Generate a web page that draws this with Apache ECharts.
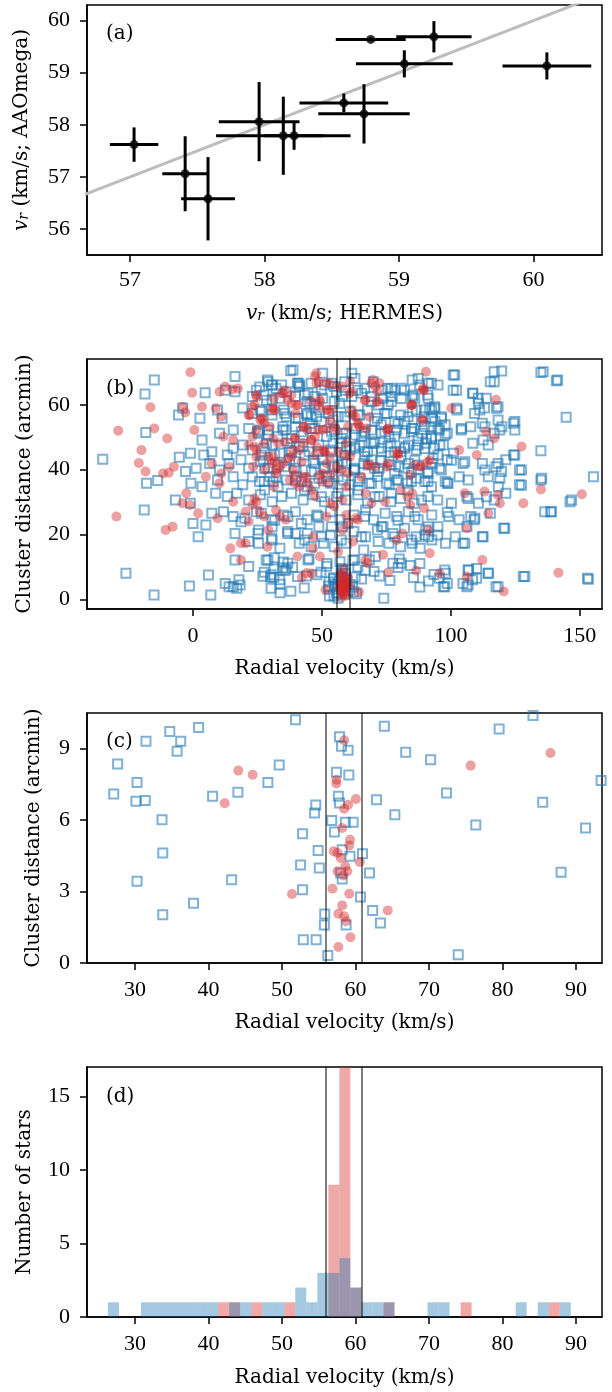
<!DOCTYPE html>
<html>
<head>
<meta charset="utf-8">
<script src="https://cdn.jsdelivr.net/npm/echarts@6/dist/echarts.min.js"></script>
<style>
html, body { margin: 0; padding: 0; background: #fff; }
#chart { width: 612px; height: 1392px; }
</style>
</head>
<body>
<div id="chart"></div>
<script>
"use strict";

/*****Data start*****/
// (a) HERMES vs AAOmega radial velocities (km/s)
var hermesV   = [57.03, 57.41, 57.58, 57.96, 58.14, 58.22, 58.59, 58.74, 58.79, 59.26, 59.04, 60.10];
var hermesErr = [0.18, 0.17, 0.20, 0.30, 0.50, 0.22, 0.33, 0.34, 0.26, 0.28, 0.36, 0.33];
var aaoV      = [57.62, 57.06, 56.58, 58.06, 57.79, 57.79, 58.42, 58.21, 59.64, 59.69, 59.17, 59.13];
var aaoErr    = [0.33, 0.72, 0.80, 0.76, 0.75, 0.27, 0.18, 0.57, 0.04, 0.30, 0.26, 0.26];
var oneToOne  = [56, 61];

// velocity window of the cluster
var memberCut = [55.9, 60.9];

// (b)/(c) [radial velocity, cluster distance] -- stars inside the (c) window
var fieldInner = [
	[27.09,7.10],[27.62,8.36],[30.26,7.58],[30.11,6.79],[31.38,6.83],[31.48,9.31],[30.26,3.43],
	[33.66,6.02],[33.76,4.62],[33.76,2.03],[34.72,9.72],[36.20,9.31],[35.72,8.89],[38.64,9.89],
	[37.95,2.51],[40.55,7.00],[43.99,7.17],[43.14,3.50],[48.07,7.58],[49.61,8.32],[51.83,10.22],
	[52.79,5.43],[52.52,4.12],[52.79,3.08],[52.89,0.98],[54.64,0.98],[54.59,6.64],[54.43,6.30],
	[54.91,4.73],[55.07,3.99],[55.81,2.06],[55.76,1.60],[56.23,0.31],[56.76,5.99],[57.13,5.50],
	[57.40,8.01],[57.82,9.50],[58.09,9.10],[58.99,8.94],[59.09,7.90],[57.66,7.00],[57.82,6.72],
	[58.62,5.91],[59.68,5.91],[58.19,4.76],[59.25,4.48],[60.95,4.59],[57.98,3.78],[58.19,3.53],
	[58.72,1.60],[60.68,2.77],[61.90,3.78],[62.33,2.21],[63.39,1.68],[62.86,6.86],[63.92,9.94],
	[65.35,6.23],[66.83,8.85],[70.22,8.54],[72.39,7.14],[73.98,0.35],[76.37,5.80],[79.55,9.83],
	[84.16,10.39],[85.48,6.75],[87.98,3.81],[91.31,5.67],[93.43,7.66]
];
var memberInner = [
	[58.46,9.36],[44.04,8.08],[46.00,7.91],[42.19,6.71],[75.68,8.29],[86.54,8.82],[57.40,7.70],
	[57.40,7.54],[60.05,6.89],[58.99,6.65],[58.46,6.48],[58.19,5.67],[59.25,5.18],[59.15,4.94],
	[57.03,4.69],[57.56,4.62],[57.98,4.41],[60.58,4.24],[58.62,4.06],[57.56,3.85],[58.88,3.85],
	[58.35,3.68],[56.87,3.12],[51.36,2.90],[59.15,2.91],[58.19,2.42],[57.66,2.07],[58.46,1.96],
	[58.72,1.75],[64.39,2.21],[59.31,1.08],[57.66,0.67]
];

// (b) the rest of the field
var fieldOuter = [
	[-35.0,43.2],[-26.0,8.0],[-15.1,1.3],[-15.0,67.6],[-18.6,63.3],[-18.3,51.4],[-18.0,35.8],[-18.9,27.5],
	[-13.7,36.6],[-1.4,4.1],[-6.8,30.6],[-5.3,43.8],[-5.6,56.8],[-2.9,39.4],[-0.8,35.8],[0.0,23.4],
	[2.0,19.3],[2.7,55.8],[4.2,44.5],[6.9,1.3],[6.0,7.5],[4.7,63.7],[7.3,26.5],[8.8,32.7],[13.3,44.5],
	[11.3,55.8],[15.6,3.9],[16.3,68.7],[16.3,20.3],[15.6,37.8],[17.8,6.0],[21.6,10.1],[23.1,57.3],
	[25.4,21.4],[28.9,67.6],[28.4,12.1],[37.9,70.5],[40.5,66.6],[35.5,40.9],[39.7,36.8],[42.7,30.6],
	[39.7,20.3],[44.3,20.3],[45.8,66.6],[45.8,56.3],[50.3,69.7],[50.6,17.3],[54.8,65.6],[57.9,62.5],
	[61.6,69.7],[63.9,64.5],[66.2,15.2],[69.2,62.5],[73.7,22.4],[76.7,62.5],[82.0,64.5],[87.3,68.1],
	[91.1,66.6],[98.6,26.8],[100.9,69.2],[100.9,64.5],[102.4,58.4],[101.7,19.3],[104.7,41.9],[106.2,3.9],
	[106.9,9.0],[108.4,63.5],[110.7,60.4],[110.0,9.5],[112.2,19.3],[112.2,41.9],[114.5,8.0],[114.5,37.8],
	[115.3,67.1],[116.8,70.2],[117.5,3.9],[118.3,59.4],[118.3,55.3],[119.0,37.3],[119.8,53.2],[120.5,21.9],
	[121.3,32.7],[124.3,54.3],[124.3,44.5],[126.6,39.9],[126.6,35.3],[128.1,7.0],[134.9,69.9],[134.9,45.8],
	[134.9,36.8],[136.4,27.0],[138.7,27.0],[140.9,67.4],[144.7,56.1],[146.2,30.1],[153.0,6.5],[155.3,37.8],
	[30.7,66.1],[32.2,65.0],[24.6,64.5],[41.2,65.6],[51.0,66.1],[69.9,67.1],[85.0,67.6],[95.0,66.1],
	[75.5,65.0],[34.4,66.1],
	[12.5,64.5],[16.3,64.0],[23.0,62.5],[27.5,63.0],[30.7,61.5],[33.7,62.0],[39.7,62.5],[44.3,61.0],
	[47.3,62.5],[50.3,62.0],[54.8,61.0],[61.6,62.5],[65.4,63.5],[73.7,62.0],[85.0,62.5],[91.0,63.0],
	[113.7,62.0],
	[-4.0,59.0],[9.5,58.4],[19.3,59.0],[26.0,58.4],[30.7,56.8],[35.2,58.4],[39.7,55.8],[44.3,56.8],
	[48.8,58.4],[52.6,57.3],[56.3,56.3],[60.9,57.8],[64.7,56.8],[67.7,58.4],[71.5,55.8],[75.2,57.3],
	[80.5,56.8],[85.0,57.8],[89.6,56.3],[92.6,58.4],[96.4,55.8],[109.2,57.3],[113.0,59.0],
	[3.5,49.1],[10.3,51.2],[15.6,52.2],[21.6,52.7],[25.4,51.2],[29.2,52.2],[32.9,50.2],[36.0,52.2],
	[39.7,53.2],[42.7,50.7],[47.3,52.7],[51.8,50.2],[54.8,52.2],[59.4,51.2],[63.1,52.7],[65.4,50.2],
	[69.2,52.2],[73.0,53.8],[76.0,50.2],[79.0,52.2],[82.0,51.2],[85.8,52.7],[88.8,51.2],[92.6,53.2],
	[95.6,52.2],[98.6,51.2],[104.0,52.2],[107.7,53.2],[112.2,54.3],[116.8,51.2],
	[-1.0,45.0],[7.3,45.5],[15.6,46.6],[19.3,47.6],[23.0,46.0],[27.6,46.6],[30.7,47.6],[33.7,45.0],
	[36.7,48.1],[41.2,47.1],[45.0,45.5],[48.8,47.6],[53.3,46.0],[57.0,48.1],[60.9,46.0],[64.7,47.6],
	[67.7,45.5],[70.0,48.1],[73.0,46.6],[76.7,48.1],[80.5,45.5],[83.5,47.6],[86.6,46.0],[90.3,48.1],
	[93.4,46.6],[97.1,47.6],[101.0,45.0],[108.5,48.1],[114.5,47.6],
	[1.2,40.4],[6.5,41.9],[10.3,39.9],[14.0,41.9],[18.6,43.0],[21.6,40.4],[26.1,42.4],[29.2,40.4],
	[39.7,42.4],[43.5,39.9],[47.3,41.9],[50.3,43.0],[54.8,40.9],[57.9,42.4],[62.4,39.9],[66.2,41.9],
	[69.2,43.0],[72.2,40.4],[76.0,42.4],[79.8,40.9],[83.5,41.9],[87.3,39.9],[92.6,41.9],[95.6,40.4],
	[98.6,43.0],[117.5,40.9],[121.3,43.0],
	[3.5,34.7],[9.5,36.8],[19.3,35.3],[23.0,37.8],[27.6,36.3],[32.2,37.8],[44.3,34.7],[48.8,37.3],
	[53.3,35.8],[56.3,37.8],[60.9,35.3],[64.7,37.3],[68.4,35.8],[71.5,37.8],[76.0,35.3],[79.0,36.8],
	[83.1,35.8],[86.6,37.3],[91.1,36.3],[98.6,35.8],[103.2,37.8],
	[-1.0,29.6],[13.3,31.7],[17.0,32.7],[21.6,30.6],[26.1,32.2],[30.7,30.1],[34.4,31.7],[46.5,32.2],
	[51.0,30.1],[55.6,31.7],[59.4,30.6],[63.9,32.2],[67.7,29.6],[72.2,31.7],[76.7,30.1],[80.5,31.1],
	[85.8,29.6],[91.1,31.7],[94.9,30.6],[100.2,29.6],[106.2,31.7],[110.7,29.6],[116.8,30.6],
	[11.8,27.0],[15.6,25.5],[20.1,25.0],[24.6,27.0],[30.7,24.5],[35.2,26.0],[39.7,27.0],[44.3,24.5],
	[48.0,26.0],[53.3,27.0],[57.0,24.5],[62.4,26.0],[66.9,27.5],[70.0,24.5],[74.5,26.5],[79.0,25.5],
	[83.5,27.0],[87.3,24.5],[92.6,26.0],[103.2,24.5],[107.7,25.5],[115.3,26.5],[109.0,24.5],
	[5.0,22.9],[18.6,23.9],[30.7,22.4],[36.7,20.9],[48.8,22.4],[53.3,19.8],[57.9,22.4],[62.4,20.9],
	[66.9,19.3],[71.5,21.4],[77.5,20.3],[82.0,21.9],[86.6,19.3],[90.3,21.4],[94.9,19.8],[106.2,22.4],
	[21.6,17.8],[25.4,17.3],[30.7,18.3],[33.7,15.7],[41.2,17.3],[45.8,16.2],[54.8,16.2],[59.4,17.3],
	[70.7,13.2],[76.0,17.3],[80.5,16.2],[85.0,17.3],[88.1,15.7],[92.6,18.3],[97.9,17.3],[104.7,17.3],
	[16.3,12.1],[68.4,12.1],[77.5,11.1],
	[35.0,11.5],[45.0,12.5],[52.0,11.0],[62.0,12.0],[80.0,12.4],[88.0,11.0],[31.5,12.8],[57.0,11.6],
	[12.5,4.9],[14.0,3.9],[17.0,3.4],[18.3,4.4],[95.6,6.5],[97.1,3.9],[98.6,4.9],[97.9,8.0],
	[104.7,4.9],[108.4,6.0],[110.0,6.5]
];
// (b) the crowded core, read from close-ups
var fieldCore = [
	[38.8,70.7],[29.1,67.1],[36.2,64.0],[40.8,66.6],[43.3,63.0],[47.2,59.9],[49.8,64.5],[53.7,66.6],
	[58.8,67.1],[62.8,68.1],[66.6,65.1],[77.0,65.1],[80.8,65.1],[86.0,62.0],[91.2,62.0],[91.8,58.9],
	[75.7,59.9],[71.8,59.9],[69.2,60.9],[64.0,56.8],[49.8,54.8],[40.8,55.8],[35.6,57.3],[30.4,58.4],
	[26.5,57.9],[25.2,51.7],[29.1,50.7],[34.9,53.2],[38.2,49.6],[42.0,51.7],[45.9,52.7],[53.7,51.7],
	[57.5,49.6],[62.7,50.7],[66.6,51.7],[70.5,48.6],[74.4,51.7],[78.2,54.8],[82.1,54.8],[84.7,51.7],
	[88.6,54.8],[90.5,49.6],[87.3,47.6],[82.1,46.6],[78.2,45.5],[73.1,45.5],[66.6,45.5],[62.7,46.6],
	[58.8,44.5],[53.7,45.5],[48.5,45.5],[43.3,44.5],[38.2,45.5],[31.7,44.5],[26.5,44.5],[27.8,40.4],
	[33.0,41.4],[39.4,40.4],[45.9,39.4],[51.1,40.4],[56.3,41.4],[62.7,40.4],[67.9,41.4],[71.8,39.4],
	[76.9,41.4],[82.1,40.4],[87.3,41.4],[91.2,39.4],[89.9,36.3],[84.7,36.3],[79.5,36.8],[75.0,35.8],
	[69.2,35.8],[64.0,36.3],[58.2,36.8],[52.4,36.3],[47.2,35.8],[42.0,36.3],[36.2,36.8],[31.1,36.3],
	[25.8,36.3],
	[27.8,33.7],[33.0,34.7],[38.2,32.7],[43.3,33.7],[49.8,31.6],[56.3,32.7],[64.0,33.7],[70.5,31.6],
	[76.9,32.7],[83.4,33.7],[88.6,30.6],[26.5,26.5],[31.7,24.4],[36.8,25.5],[42.0,23.4],[48.5,25.5],
	[53.7,22.4],[60.1,23.4],[66.6,25.5],[73.1,22.4],[79.5,24.4],[86.0,25.5],[91.2,22.4],[25.2,20.3],
	[30.4,18.8],[36.8,20.3],[43.3,18.3],[49.8,19.3],[57.5,18.3],[65.3,19.3],[71.8,17.8],[78.2,19.3],
	[84.7,18.3],[89.9,19.8],[29.1,12.1],[36.8,11.1],[44.6,12.1],[62.7,12.1],[80.8,11.1],
	[101.5,69.2],[102.2,64.5],[108.6,63.5],[110.6,62.0],[116.8,67.1],[119.7,70.4],[135.8,70.2],[141.4,67.6],
	[124.8,54.8],[124.8,52.2],[119.0,52.2],[113.2,53.2],[104.1,52.7],[93.8,58.9],[93.8,54.8],[97.8,53.8],
	[97.8,50.7],[92.5,49.6],[102.2,58.9],[111.2,58.4],[117.7,58.9],[112.5,49.1],[118.3,41.9],[124.8,44.5],
	[105.4,42.4],[100.2,42.9],[95.0,44.5],[119.6,39.4],[127.4,39.9],[135.2,37.3],[113.2,39.9],[106.7,36.8],
	[97.8,36.3],[92.5,34.7],[98.9,35.8],[106.7,31.1],[113.8,31.6],[118.4,34.7],[127.4,35.2],[146.8,30.6],
	[139.0,27.0],[120.9,21.9],[112.5,19.3],[105.4,17.3],[109.3,25.0],[99.2,25.5],[95.0,22.4],[91.2,19.3],
	[97.6,9.0],[106.7,9.0],[114.5,8.0],[118.3,3.9],[128.7,7.0],[106.7,4.4],[97.6,3.9],[153.3,6.2],
	[25.9,65.5],[30.4,66.1],[41.4,66.1],[44.6,63.5],[55.6,64.0],[58.9,64.5],[28.5,61.4],[45.3,60.4],
	[56.9,60.4],[36.2,56.3],[44.0,57.3],[47.9,56.3],[54.3,55.3],[58.9,56.3],[25.9,52.2],[34.9,52.2],
	[45.3,54.2],[58.2,51.2],[28.5,48.1],[37.5,46.0],[42.7,47.0],[54.3,48.1],[59.5,47.0],[27.2,42.9],
	[37.5,42.9],[46.6,42.9],[50.5,40.9],[59.5,41.9],[29.8,37.8],[40.1,37.8],[51.8,37.8],
	[78.2,64.5],[87.9,66.1],[92.4,66.6],[85.3,63.0],[73.0,64.5],[76.9,60.9],[80.8,61.9],[93.7,59.4],
	[89.8,58.4],[74.3,57.3],[83.4,56.3],[86.6,58.4],[92.4,55.8],[96.3,56.3],[70.4,54.8],[79.5,54.2],
	[84.7,52.7],[89.8,53.2],[95.0,52.7],[66.6,51.2],[73.0,51.2],[78.2,50.1],[87.3,49.6],[92.4,50.1],
	[62.7,47.0],[69.1,48.1],[75.6,47.0],[82.1,47.0],[89.8,46.5],[95.7,47.6],[66.6,44.0],[73.0,42.9],
	[80.8,44.0],[86.0,42.9],[93.1,43.4],[62.7,39.9],[70.4,40.4],[78.2,38.8],[84.7,39.3],[91.1,38.8],
	[96.3,39.9]
];
var memberOuter = [
	[-1.0,70.0],[-29.0,52.0],[-29.7,25.5],[-20.0,46.0],[-21.0,42.0],[-18.4,39.4],[-16.5,59.2],[-15.0,52.7],
	[-10.0,49.6],[-10.6,21.4],[-7.9,22.4],[-11.6,38.8],[-9.4,39.0],[-7.4,40.9],[-4.0,59.4],[-3.0,57.6],
	[-0.3,63.7],[0.5,52.2],[-2.6,32.7],[-4.1,29.6],[-1.1,29.1],[2.0,26.5],[5.0,37.8],[7.3,41.9],
	[3.5,59.4],[8.8,58.9],[10.3,64.0],[12.5,65.6],[15.3,64.7],[17.4,65.0],[11.0,56.3],[11.8,50.2],
	[15.6,49.1],[11.0,38.8],[10.3,35.8],[14.0,40.9],[15.6,30.1],[9.5,25.0],[14.5,15.7],[18.6,17.3],
	[20.4,17.3],[18.6,12.1],[20.4,27.0],[21.6,24.0],[23.1,29.1],[24.6,30.1],[23.9,31.1],[25.8,27.0],
	[27.6,25.5],[29.2,21.4],[28.9,16.2],[24.6,62.5],[23.1,59.4],[21.6,56.8],[26.1,55.3],[27.6,54.3],
	[24.6,52.2],[23.1,50.2],[21.6,47.6],[24.6,46.0],[27.6,48.1],[29.2,44.0],[30.7,41.9],[32.2,39.9],
	[33.7,40.9],[31.4,34.7],[32.2,27.5],[33.7,25.5],[36.0,24.5],[37.5,36.8],[39.7,35.8],[41.2,34.7],
	[42.7,37.8],[44.3,35.8],[45.8,33.7],[47.3,31.7],[38.2,44.0],[41.2,46.0],[42.7,48.1],[45.8,49.1],
	[44.3,52.2],[47.3,50.2],[50.3,52.2],[39.7,57.3],[38.2,60.4],[36.7,61.5],[34.4,63.5],[31.4,62.0],
	[30.7,58.4],[47.3,68.7],[48.8,67.1],[45.8,61.0],[48.8,59.4],[51.8,58.4],[53.3,55.3],[51.0,45.5],
	[51.8,41.9],[50.3,38.8],[52.6,35.8],[53.3,29.6],[54.8,28.6],[51.8,25.5],[46.7,19.3],[46.5,15.7],
	[49.2,13.2],[40.5,13.2],[56.3,14.7],[58.0,21.4],[59.4,26.0],[60.1,23.4],[58.0,30.6],[59.4,34.7],
	[60.1,38.8],[60.9,44.0],[59.4,48.1],[60.1,53.2],[61.6,64.0],[60.9,67.1],[57.9,65.6],[63.1,56.3],
	[64.7,53.2],[61.6,58.4],[63.1,25.0],[63.9,24.5],[62.1,17.8],[66.9,12.1],[67.7,11.1],[69.2,66.6],
	[70.7,65.6],[71.5,64.0],[66.9,61.5],[68.4,56.3],[66.9,32.7],[69.2,29.6],[70.7,40.9],[75.2,52.2],
	[75.2,40.9],[74.5,30.1],[73.7,13.7],[79.0,45.0],[79.0,18.3],[81.3,20.3],[80.6,33.7],[83.1,31.7],
	[84.3,38.3],[85.0,32.7],[84.3,29.1],[85.0,59.9],[88.8,55.3],[89.6,64.5],[90.3,70.2],[88.1,40.9],
	[91.1,42.4],[89.6,28.1],[91.1,21.4],[91.8,14.2],[95.6,8.0],[100.2,58.9],[103.2,46.0],[105.4,32.7],
	[106.2,21.9],[106.2,7.0],[110.0,44.5],[112.2,12.1],[113.0,33.2],[113.7,51.7],[114.5,26.5],[116.8,49.6],
	[117.5,61.5],[118.3,32.2],[119.0,29.6],[120.5,2.4],[127.4,47.1],[128.1,29.6],[134.9,33.9],[141.7,8.2],
	[150.8,32.4],
	[47.8,69.7],[51.7,66.6],[55.6,65.6],[69.8,67.6],[72.4,66.6],[89.2,65.1],[84.7,59.9],[71.8,60.9],
	[35.6,64.5],[40.1,59.9],[26.5,55.8],[49.1,61.5],[53.7,58.4],[64.0,53.8],[67.3,52.7],[75.6,52.7],
	[54.9,53.2],[43.3,53.2],[39.4,49.6],[33.0,48.1],[51.1,45.5],[47.2,44.5],[36.9,43.5],[31.7,42.4],
	[58.8,44.5],[67.9,41.4],[79.5,44.5],[86.0,41.4],[57.5,39.9],[39.4,38.3],[49.8,36.3],[65.3,37.8],
	[47.9,66.6],[53.0,66.6],[24.6,63.0],[34.9,63.5],[38.2,63.0],[40.8,59.9],[49.2,60.9],[52.4,58.4],
	[31.1,58.9],[23.9,59.9],[22.0,56.8],[27.2,55.3],[31.7,58.4],[42.7,53.2],[45.9,49.1],[48.5,52.2],
	[51.8,52.7],[55.6,52.2],[23.9,47.0],[29.8,53.2],[31.1,49.6],[35.6,48.6],[39.5,49.6],[38.8,46.0],
	[42.1,42.4],[47.9,47.0],[50.5,46.0],[53.0,44.0],[56.3,45.5],[55.6,40.9],[24.6,44.0],[31.1,44.0],
	[34.9,41.9],[32.3,38.8],[38.8,39.9],[44.0,37.8],[49.2,38.3],[53.7,38.8],[23.3,40.9],[27.8,39.9],
	[60.7,63.5],[66.6,61.4],[71.1,60.9],[84.7,59.9],[89.2,64.5],[62.0,56.8],[64.0,54.2],[75.6,52.4],
	[89.2,55.3],[79.5,45.0],[75.6,41.9],[67.9,41.4],[91.8,42.9],[88.6,41.1]
];

// (d) histogram of radial velocities
var binEdges = [26.3, 27.8, 29.3, 30.8, 32.3, 33.8, 35.3, 36.8, 38.3, 39.8, 41.3, 42.8, 44.3, 45.8,
	47.3, 48.8, 50.3, 51.8, 53.3, 54.8, 56.3, 57.8, 59.3, 60.8, 62.3, 63.8, 65.3, 66.8, 68.3, 69.8,
	71.3, 72.8, 74.3, 75.8, 77.3, 78.8, 80.3, 81.8, 83.3, 84.8, 86.3, 87.8, 89.3];
var fieldCounts  = [1, 0, 0, 1, 1, 1, 1, 1, 1, 1, 0, 1, 1, 0, 1, 1, 0, 2, 1, 3, 3, 4, 2, 1, 1, 1,
	0, 0, 0, 1, 1, 0, 0, 0, 0, 0, 0, 1, 0, 1, 0, 1];
var memberCounts = [0, 0, 0, 0, 0, 0, 0, 0, 0, 0, 1, 1, 0, 1, 0, 0, 1, 0, 0, 0, 9, 17, 2, 0, 0, 1,
	0, 0, 0, 0, 0, 0, 1, 0, 0, 0, 0, 0, 0, 0, 1, 0];

// tick labels
var ticksAX = [57, 58, 59, 60], ticksAY = [56, 57, 58, 59, 60];
var ticksBX = [0, 50, 100, 150], ticksBY = [0, 20, 40, 60];
var ticksCX = [30, 40, 50, 60, 70, 80, 90], ticksCY = [0, 3, 6, 9];
var ticksDY = [0, 5, 10, 15];
/*****Data end*****/

var TICK_FONT = 'Liberation Serif';
var TEXT_FONT = 'DejaVu Serif';
var BLUE_EDGE = 'rgba(31,119,180,0.72)';
var RED_FILL = 'rgba(214,39,40,0.55)';

var vrRich = {
	i: { fontFamily: TEXT_FONT, fontSize: 20, fontStyle: 'italic', color: '#000', padding: [0, 0, 5, 0] },
	s: { fontFamily: TEXT_FONT, fontSize: 14, fontStyle: 'italic', color: '#000' },
	n: { fontFamily: TEXT_FONT, fontSize: 20, color: '#000', padding: [0, 0, 5, 0] }
};

function makeAxis(gi, min, max, ticks, name, gap, margin, rich) {
	var ns = { fontFamily: TEXT_FONT, fontSize: 20, color: '#000' };
	if (rich) { ns.rich = rich; }
	return {
		type: 'value', gridIndex: gi, min: min, max: max, scale: true,
		name: name, nameLocation: 'middle', nameGap: gap, nameTextStyle: ns,
		axisLine: { show: true, onZero: false, lineStyle: { color: '#000', width: 1.5 } },
		axisTick: { show: true, length: 7, lineStyle: { color: '#000', width: 1.5 }, customValues: ticks },
		axisLabel: { fontFamily: TICK_FONT, fontSize: 22, color: '#000', margin: margin, customValues: ticks },
		splitLine: { show: false }
	};
}

function makeGrid(top) {
	return { left: 87, width: 515, top: top, height: 250, show: true,
		borderColor: '#000', borderWidth: 1.5, backgroundColor: 'transparent' };
}

function cutLines() {
	return {
		silent: true, symbol: 'none', label: { show: false },
		lineStyle: { color: 'rgba(0,0,0,0.5)', width: 2, type: 'solid' },
		data: memberCut.map(function (v) { return { xAxis: v }; })
	};
}

function errorBarItem(params, api) {
	var x = api.value(0), y = api.value(1), ex = api.value(2), ey = api.value(3);
	var l = api.coord([x - ex, y]), r = api.coord([x + ex, y]);
	var t = api.coord([x, y + ey]), b = api.coord([x, y - ey]);
	var st = { stroke: '#000', lineWidth: 3 };
	return { type: 'group', children: [
		{ type: 'line', shape: { x1: l[0], y1: l[1], x2: r[0], y2: r[1] }, style: st },
		{ type: 'line', shape: { x1: b[0], y1: b[1], x2: t[0], y2: t[1] }, style: st }
	] };
}

function histItem(fill) {
	return function (params, api) {
		var p0 = api.coord([api.value(0), api.value(2)]);
		var p1 = api.coord([api.value(1), 0]);
		return { type: 'rect', shape: { x: p0[0], y: p0[1], width: p1[0] - p0[0], height: p1[1] - p0[1] },
			style: { fill: fill } };
	};
}

function histData(counts) {
	var out = [];
	for (var i = 0; i < counts.length; i++) {
		if (counts[i] > 0) { out.push([binEdges[i], binEdges[i + 1], counts[i]]); }
	}
	return out;
}

function scatterField(ai, data) {
	return { type: 'scatter', xAxisIndex: ai, yAxisIndex: ai, data: data, symbol: 'rect', symbolSize: 9,
		clip: true, silent: true, large: false,
		itemStyle: { color: 'rgba(0,0,0,0)', borderColor: BLUE_EDGE, borderWidth: 2 } };
}
function scatterMember(ai, data) {
	return { type: 'scatter', xAxisIndex: ai, yAxisIndex: ai, data: data, symbol: 'circle', symbolSize: 10,
		clip: true, silent: true, large: false, itemStyle: { color: RED_FILL } };
}

function panelLabel(txt, top) {
	return { type: 'text', left: 106, top: top,
		style: { text: txt, font: '20px "' + TEXT_FONT + '"', fill: '#000' } };
}

var chart = echarts.init(document.getElementById('chart'), null, { renderer: 'canvas' });

var option = {
	animation: false,
	backgroundColor: '#fff',
	grid: [makeGrid(5), makeGrid(359), makeGrid(713), makeGrid(1067)],
	xAxis: [
		makeAxis(0, 56.68, 60.51, ticksAX, '{i|v}{s|r}{n| (km/s; HERMES)}', 49, 14, vrRich),
		makeAxis(1, -41.1, 158.6, ticksBX, 'Radial velocity (km/s)', 50, 16),
		makeAxis(2, 23.45, 93.55, ticksCX, 'Radial velocity (km/s)', 50, 16),
		makeAxis(3, 23.45, 93.55, ticksCX, 'Radial velocity (km/s)', 51, 16)
	],
	yAxis: [
		makeAxis(0, 55.5, 60.3, ticksAY, '{i|v}{s|r}{n| (km/s; AAOmega)}', 50, 17, vrRich),
		makeAxis(1, -3, 74.1, ticksBY, 'Cluster distance (arcmin)', 52, 17),
		makeAxis(2, 0, 10.5, ticksCY, 'Cluster distance (arcmin)', 43, 17),
		makeAxis(3, 0, 17, ticksDY, 'Number of stars', 52, 17)
	],
	graphic: [
		panelLabel('(a)', 24),
		panelLabel('(b)', 379),
		panelLabel('(c)', 732),
		panelLabel('(d)', 1087)
	],
	series: [
		{ type: 'line', xAxisIndex: 0, yAxisIndex: 0, data: oneToOne.map(function (v) { return [v, v]; }),
			showSymbol: false, silent: true, clip: true, z: 1,
			lineStyle: { color: '#bdbdbd', width: 3 } },
		{ type: 'custom', xAxisIndex: 0, yAxisIndex: 0, clip: true, z: 2, silent: true,
			data: hermesV.map(function (v, i) { return [v, aaoV[i], hermesErr[i], aaoErr[i]]; }),
			renderItem: errorBarItem },
		{ type: 'scatter', xAxisIndex: 0, yAxisIndex: 0, z: 3, silent: true, symbolSize: 9,
			data: hermesV.map(function (v, i) { return [v, aaoV[i]]; }),
			itemStyle: { color: '#000' } },

		scatterField(1, fieldOuter.concat(fieldCore, fieldInner)),
		scatterMember(1, memberOuter.concat(memberInner)),
		{ type: 'scatter', xAxisIndex: 1, yAxisIndex: 1, data: [], markLine: cutLines() },

		scatterField(2, fieldInner),
		scatterMember(2, memberInner),
		{ type: 'scatter', xAxisIndex: 2, yAxisIndex: 2, data: [], markLine: cutLines() },

		{ type: 'custom', xAxisIndex: 3, yAxisIndex: 3, clip: true, silent: true,
			data: histData(memberCounts), renderItem: histItem('rgba(214,39,40,0.4)') },
		{ type: 'custom', xAxisIndex: 3, yAxisIndex: 3, clip: true, silent: true,
			data: histData(fieldCounts), renderItem: histItem('rgba(31,119,180,0.4)') },
		{ type: 'scatter', xAxisIndex: 3, yAxisIndex: 3, data: [], markLine: cutLines() }
	]
};

chart.setOption(option);
</script>
</body>
</html>
